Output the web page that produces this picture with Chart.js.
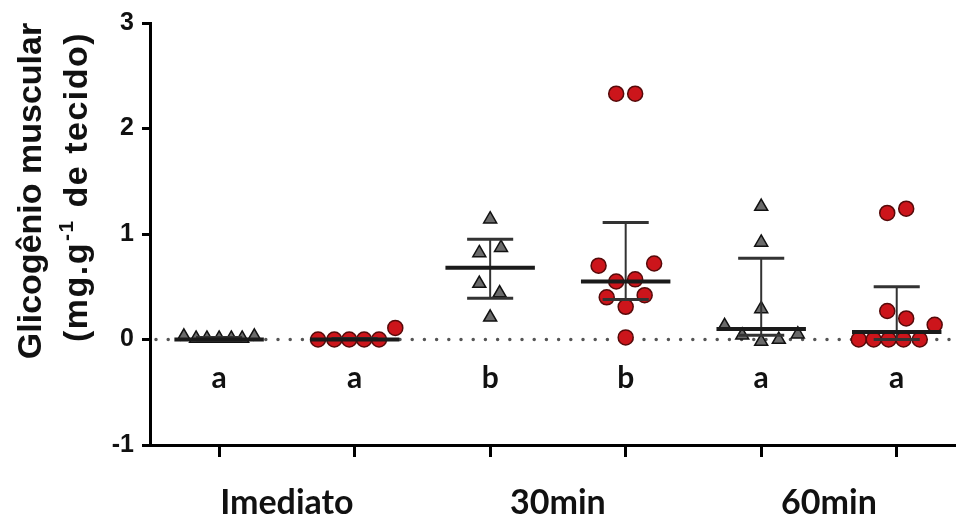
<!DOCTYPE html>
<html lang="pt">
<head>
<meta charset="UTF-8">
<title>Glicogênio muscular</title>
<script src="https://cdn.jsdelivr.net/npm/chart.js"></script>
<style>
  body { margin: 0; background: #fff; }
  #wrap { width: 964px; height: 525px; }
</style>
</head>
<body>
<div id="wrap">
  <canvas id="myChart" width="964" height="525"></canvas>
</div>
<script>
  // grupos e letras de significância (uma por coluna)
  const groups = ['Imediato', '30min', '60min'];
  const letters = ['a', 'a', 'b', 'b', 'a', 'a'];
  const yTicks = [-1, 0, 1, 2, 3];
  const yTitle1 = 'Glicogênio muscular';
  const yTitle2 = ['(mg.g', '-1', ' de tecido)'];

  // triângulos cinza (coluna par) - valores e deslocamento horizontal
  const triImediato = [0.03, 0.01, 0.01, 0.01, 0.01, 0.01, 0.03];
  const triImediatoOff = [-0.26, -0.17, -0.09, 0, 0.09, 0.17, 0.26];
  const tri30 = [1.14, 0.87, 0.82, 0.53, 0.44, 0.21];
  const tri30Off = [0, 0.08, -0.08, -0.08, 0.07, 0];
  const tri60 = [1.26, 0.92, 0.29, 0.13, 0.04, -0.02, 0.0, 0.05];
  const tri60Off = [0, 0, 0, -0.27, -0.14, 0, 0.13, 0.27];

  // círculos vermelhos (coluna ímpar)
  const circImediato = [0, 0, 0, 0, 0, 0.11];
  const circImediatoOff = [-0.27, -0.15, -0.04, 0.07, 0.18, 0.30];
  const circ30 = [2.33, 2.33, 0.72, 0.70, 0.57, 0.55, 0.42, 0.40, 0.31, 0.02];
  const circ30Off = [-0.07, 0.07, 0.21, -0.20, 0.07, -0.07, 0.14, -0.14, 0, 0];
  const circ60 = [1.20, 1.24, 0.27, 0.20, 0.14, 0, 0, 0, 0, 0];
  const circ60Off = [-0.07, 0.07, -0.07, 0.07, 0.28, -0.28, -0.17, -0.06, 0.05, 0.17];

  // mediana e intervalo (por coluna)
  const medians = [0, 0, 0.68, 0.55, 0.10, 0.07];
  const upper = [0.02, 0.01, 0.95, 1.11, 0.77, 0.50];
  const lower = [-0.01, 0, 0.39, 0.38, 0.04, 0.0];

  function pts(vals, offs, col) {
    return vals.map((v, i) => ({ x: col + offs[i], y: v }));
  }

  const triData = [].concat(
    pts(triImediato, triImediatoOff, 0),
    pts(tri30, tri30Off, 2),
    pts(tri60, tri60Off, 4)
  );
  const circData = [].concat(
    pts(circImediato, circImediatoOff, 1),
    pts(circ30, circ30Off, 3),
    pts(circ60, circ60Off, 5)
  );

  // linha pontilhada no zero
  const zeroLine = {
    id: 'zeroLine',
    beforeDatasetsDraw(chart) {
      const { ctx, chartArea, scales } = chart;
      const y = scales.y.getPixelForValue(0);
      ctx.save();
      ctx.strokeStyle = '#555';
      ctx.lineWidth = 3.5;
      ctx.lineCap = 'round';
      ctx.setLineDash([0, 12.2]);
      ctx.beginPath();
      ctx.moveTo(chartArea.left + 6, y);
      ctx.lineTo(chartArea.right, y);
      ctx.stroke();
      ctx.restore();
    }
  };

  // titulo do eixo y (duas linhas, com expoente)
  const yTitle = {
    id: 'yTitle',
    afterDraw(chart) {
      const { ctx } = chart;
      const font = 'bold 34px "Liberation Sans", Arial, sans-serif';
      const supFont = 'bold 21px "Liberation Sans", Arial, sans-serif';
      ctx.save();
      ctx.fillStyle = '#111';
      ctx.textBaseline = 'middle';
      // linha 1
      ctx.save();
      ctx.translate(32, 191);
      ctx.rotate(-Math.PI / 2);
      ctx.font = font;
      ctx.textAlign = 'center';
      ctx.fillText(yTitle1, 0, 0);
      ctx.restore();
      // linha 2
      ctx.save();
      ctx.translate(78, 187);
      ctx.rotate(-Math.PI / 2);
      if ('letterSpacing' in ctx) ctx.letterSpacing = '1.5px';
      ctx.font = font;
      const w0 = ctx.measureText(yTitle2[0]).width;
      const w2 = ctx.measureText(yTitle2[2]).width;
      ctx.font = supFont;
      const w1 = ctx.measureText(yTitle2[1]).width + 2;
      let x = -(w0 + w1 + w2) / 2;
      ctx.textAlign = 'left';
      ctx.font = font;
      ctx.fillText(yTitle2[0], x, 0);
      x += w0;
      ctx.font = supFont;
      ctx.fillText(yTitle2[1], x + 1, -11);
      x += w1;
      ctx.font = font;
      ctx.fillText(yTitle2[2], x, 0);
      ctx.restore();
      ctx.restore();
    }
  };

  // mediana + intervalo e letras
  const medianBars = {
    id: 'medianBars',
    afterDatasetsDraw(chart) {
      const { ctx, scales } = chart;
      const sx = scales.x, sy = scales.y;
      ctx.save();
      medians.forEach((m, i) => {
        const xc = sx.getPixelForValue(i);
        const xl = sx.getPixelForValue(i - 0.33), xr = sx.getPixelForValue(i + 0.33);
        const cl = sx.getPixelForValue(i - 0.17), cr = sx.getPixelForValue(i + 0.17);
        const ym = sy.getPixelForValue(m);
        const yu = sy.getPixelForValue(upper[i]);
        const yl = sy.getPixelForValue(lower[i]);
        ctx.strokeStyle = '#333';
        ctx.lineWidth = 2;
        ctx.beginPath();
        ctx.moveTo(xc, yu); ctx.lineTo(xc, yl);
        ctx.stroke();
        ctx.lineWidth = 3;
        ctx.beginPath();
        ctx.moveTo(cl, yu); ctx.lineTo(cr, yu);
        ctx.moveTo(cl, yl); ctx.lineTo(cr, yl);
        ctx.stroke();
        ctx.strokeStyle = '#1a1a1a';
        ctx.lineWidth = 4;
        ctx.beginPath();
        ctx.moveTo(xl, ym); ctx.lineTo(xr, ym);
        ctx.stroke();
      });
      ctx.fillStyle = '#111';
      ctx.font = 'bold 30px Lato, "Open Sans", sans-serif';
      ctx.textAlign = 'center';
      ctx.textBaseline = 'alphabetic';
      letters.forEach((t, i) => {
        ctx.fillText(t, sx.getPixelForValue(i), sy.getPixelForValue(-0.46));
      });
      ctx.restore();
    }
  };

  new Chart(document.getElementById('myChart'), {
    type: 'scatter',
    data: {
      datasets: [
        {
          label: 'triangulos',
          data: triData,
          pointStyle: 'triangle',
          pointRadius: 7.5,
          backgroundColor: '#6a6a6a',
          borderColor: '#111',
          borderWidth: 1.5
        },
        {
          label: 'circulos',
          data: circData,
          pointStyle: 'circle',
          pointRadius: 7.5,
          backgroundColor: '#cc151b',
          borderColor: '#560a0a',
          borderWidth: 1.5
        }
      ]
    },
    options: {
      responsive: false,
      animation: false,
      layout: { padding: { top: 22, right: 0, left: 0, bottom: 0 } },
      plugins: { legend: { display: false }, tooltip: { enabled: false } },
      scales: {
        x: {
          type: 'linear',
          min: -0.51,
          max: 5.43,
          afterBuildTicks(scale) {
            const t = [];
            for (let v = 0; v <= 5; v += 0.5) t.push({ value: v });
            scale.ticks = t;
          },
          afterFit(scale) { scale.height = 80; },
          grid: {
            drawOnChartArea: false,
            drawTicks: true,
            tickLength: 12,
            tickWidth: 3,
            tickColor: c => Number.isInteger(c.tick.value) ? '#000' : 'rgba(0,0,0,0)'
          },
          border: { display: true, color: '#000', width: 3 },
          ticks: {
            autoSkip: false,
            maxRotation: 0,
            padding: 26,
            color: '#111',
            font: { family: 'Lato, "Open Sans", sans-serif', size: 34, weight: 'bold' },
            callback: v => {
              const k = (v - 0.5) / 2;
              return Number.isInteger(k) ? groups[k] : '';
            }
          }
        },
        y: {
          min: -1,
          max: 3,
          afterBuildTicks(scale) {
            scale.ticks = yTicks.map(v => ({ value: v }));
          },
          afterFit(scale) { scale.width = 150; },
          grid: {
            drawOnChartArea: false,
            drawTicks: true,
            tickLength: 8,
            tickWidth: 3,
            tickColor: '#000'
          },
          border: { display: true, color: '#000', width: 3 },
          ticks: {
            padding: 8,
            color: '#111',
            font: { family: '"Liberation Sans", Arial, sans-serif', size: 25, weight: 'bold' }
          }
        }
      }
    },
    plugins: [zeroLine, medianBars, yTitle]
  });
</script>
</body>
</html>
